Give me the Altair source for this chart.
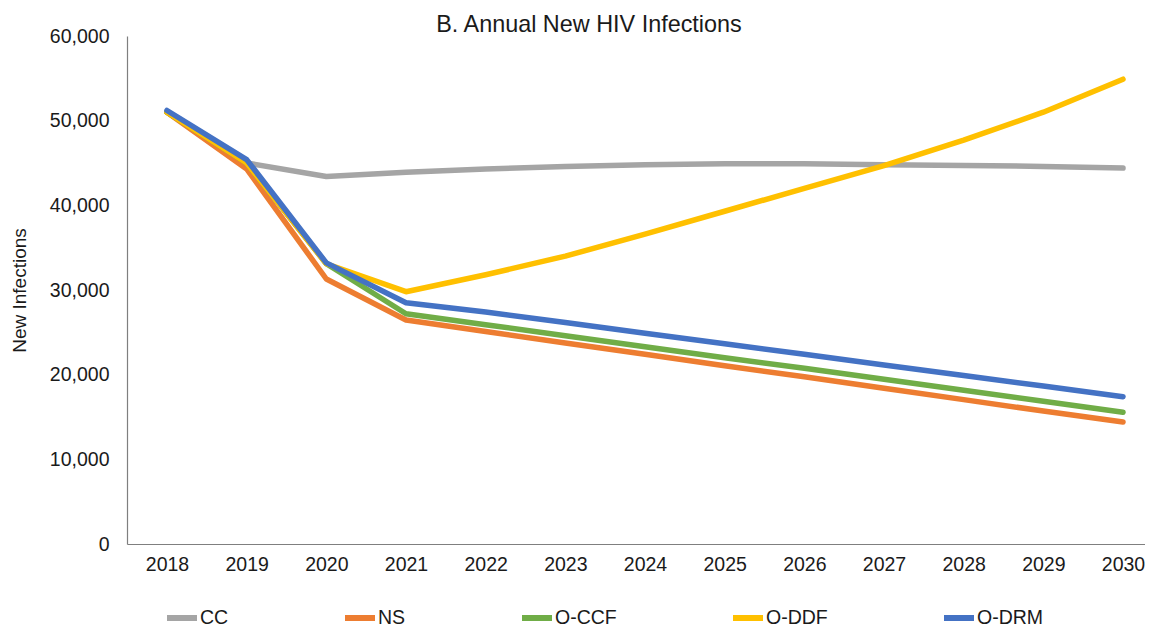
import altair as alt
import pandas as pd

years = list(range(2018, 2031))
series_names = ["CC", "NS", "O-CCF", "O-DDF", "O-DRM"]
colors = ["#A5A5A5", "#ED7D31", "#70AD47", "#FFC000", "#4472C4"]

cc = [51000, 45000, 43400, 43900, 44300, 44600, 44800, 44900, 44900, 44800, 44700, 44600, 44400]
ns = [51000, 44300, 31300, 26450, 25100, 23750, 22400, 21050, 19750, 18400, 17050, 15700, 14400]
occf = [51000, 45000, 33100, 27200, 25900, 24600, 23300, 22000, 20750, 19450, 18150, 16850, 15550]
oddf = [51000, 45000, 33100, 29800, 31800, 34000, 36600, 39300, 42000, 44700, 47700, 51000, 54900]
odrm = [51200, 45400, 33200, 28500, 27400, 26150, 24900, 23650, 22400, 21150, 19900, 18650, 17400]

y_ticks = [0, 10000, 20000, 30000, 40000, 50000, 60000]

rows = []
for name, vals in zip(series_names, [cc, ns, occf, oddf, odrm]):
    for yr, v in zip(years, vals):
        rows.append({"Year": yr, "Value": v, "Series": name})
df = pd.DataFrame(rows)

FONT = "Liberation Sans"
TXT = "#1a1a1a"

chart = alt.Chart(df).mark_line(
    strokeWidth=5.5, strokeCap="round", strokeJoin="round"
).encode(
    x=alt.X("Year:Q",
            scale=alt.Scale(domain=[2017.498, 2030.276], nice=False, zero=False),
            axis=alt.Axis(values=years, format="d", title=None, grid=False, ticks=False,
                          labelFontSize=19.5, labelFont=FONT, labelColor=TXT, labelPadding=11,
                          domainColor="#7f7f7f", domainWidth=1.2, labelFlush=False)),
    y=alt.Y("Value:Q",
            scale=alt.Scale(domain=[0, 60000], nice=False),
            axis=alt.Axis(values=y_ticks, format=",d", title="New Infections", grid=False, ticks=False,
                          labelFontSize=19.5, labelFont=FONT, labelColor=TXT, labelPadding=18,
                          domainColor="#7f7f7f", domainWidth=1.2,
                          titleFont=FONT, titleFontSize=19, titleFontWeight="normal", titleColor=TXT,
                          titleX=-108, titleY=254, titleAngle=270, titleBaseline="middle",
                          titleAlign="center")),
    color=alt.Color("Series:N",
                    scale=alt.Scale(domain=series_names, range=colors),
                    legend=alt.Legend(title=None, orient="none", legendX=37, legendY=564,
                                      direction="horizontal", symbolType="stroke",
                                      symbolSize=900, symbolStrokeWidth=6,
                                      labelFontSize=19.5, labelFont=FONT, labelColor=TXT,
                                      labelOffset=0, columnPadding=104, padding=0)),
    detail="Series:N",
).properties(
    width=1018,
    height=508,
    title=alt.TitleParams("B. Annual New HIV Infections", font=FONT, fontSize=23.4,
                          fontWeight="normal", color=TXT, frame="group", anchor="middle",
                          offset=8, dx=-47, dy=19),
    padding={"left": 119, "top": 28, "right": 0, "bottom": 84},
    autosize=alt.AutoSizeParams(type="none"),
).configure_view(stroke=None)

chart.save("out.html", embed_options={"renderer": "svg", "actions": False})
